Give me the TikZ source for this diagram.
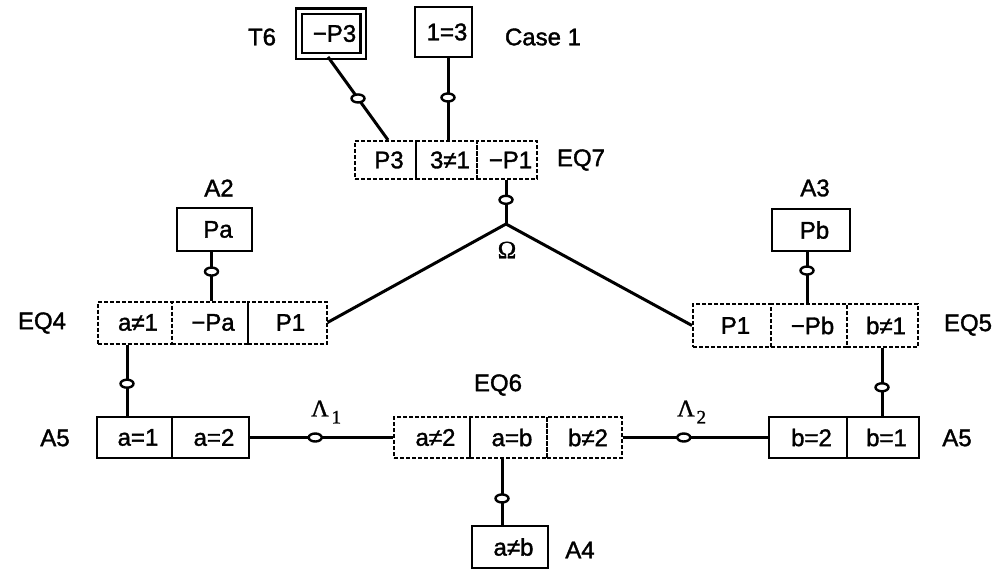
\documentclass[tikz,border=0pt]{standalone}
\usepackage{fontspec}
\setmainfont{Liberation Sans}
\newfontfamily\hv{Liberation Sans}[FakeBold=1.5]
\newfontfamily\srf{Liberation Serif}[FakeBold=1.2]
\usetikzlibrary{shapes.geometric}
\begin{document}
\begin{tikzpicture}[x=1pt,y=-1pt,
  txt/.style={font=\hv\fontsize{24}{28}\selectfont, inner sep=0pt},
  cell/.style={txt, draw, rectangle, execute at begin node={\hspace*{7pt}}},
  solidcell/.style={cell, line width=2.5pt},
  dashcell/.style={cell, line width=2pt, dash pattern=on 4pt off 2pt},
  dblcell/.style={cell, line width=2.3pt, double, double distance=3.5pt},
  conn/.style={line width=3pt},
  oc/.style={ellipse, draw, line width=2.4pt, fill=white, minimum width=13pt, minimum height=8pt, inner sep=0pt},
  lbl/.style={txt},
  greek/.style={inner sep=0pt, font=\srf\fontsize{24}{28}\selectfont}]
\useasboundingbox (0,0) rectangle (999,570);

% top boxes
\node[dblcell, minimum width=64.5pt, minimum height=44.5pt] (t6) at (331,33.5) {−P3};
\node[solidcell, minimum width=57pt, minimum height=50pt] (c13) at (443.5,32) {1=3};

% EQ7
\node[dashcell, minimum width=61pt, minimum height=38pt] (eq7a) at (385.5,160) {P3};
\node[dashcell, minimum width=61pt, minimum height=38pt] (eq7b) at (446.5,160) {3≠1};
\node[dashcell, minimum width=60pt, minimum height=38pt] (eq7c) at (507,160) {−P1};

% A2, EQ4
\node[solidcell, minimum width=75pt, minimum height=43pt] (pa) at (214.5,229.5) {Pa};
\node[dashcell, minimum width=74pt, minimum height=42pt] (eq4a) at (134.5,322.5) {a≠1};
\node[dashcell, minimum width=76pt, minimum height=42pt] (eq4b) at (209.5,322.5) {−Pa};
\node[dashcell, minimum width=79pt, minimum height=42pt] (eq4c) at (287,322.5) {P1};

% A3, EQ5
\node[solidcell, minimum width=78pt, minimum height=42pt] (pb) at (811,230) {Pb};
\node[dashcell, minimum width=78pt, minimum height=43pt] (eq5a) at (732,325.5) {P1};
\node[dashcell, minimum width=76pt, minimum height=43pt] (eq5b) at (809,325.5) {−Pb};
\node[dashcell, minimum width=71pt, minimum height=43pt] (eq5c) at (882.5,325.5) {b≠1};

% A5 left
\node[solidcell, minimum width=75pt, minimum height=41pt] (a5a) at (134.5,437.5) {a=1};
\node[solidcell, minimum width=77pt, minimum height=41pt] (a5b) at (210.5,437.5) {a=2};

% EQ6
\node[dashcell, minimum width=76pt, minimum height=41pt] (eq6a) at (432,437.5) {a≠2};
\node[dashcell, minimum width=77pt, minimum height=41pt] (eq6b) at (508.5,437.5) {a=b};
\node[dashcell, minimum width=75pt, minimum height=41pt] (eq6c) at (584.5,437.5) {b≠2};

% A5 right
\node[solidcell, minimum width=78pt, minimum height=41pt] (b5a) at (808,437.5) {b=2};
\node[solidcell, minimum width=72pt, minimum height=41pt] (b5b) at (883,437.5) {b=1};

% A4
\node[solidcell, minimum width=76pt, minimum height=42pt] (a4) at (510,547) {a≠b};

% Omega vertex
\coordinate (om) at (506,224);

% connectors
\draw[conn] ([xshift=-3pt]t6.south) -- node[oc, pos=0.5]{} ([xshift=2.5pt]eq7a.north);
\draw[conn] ([xshift=4.5pt]c13.south) -- node[oc, pos=0.48]{} ([xshift=1.5pt]eq7b.north);
\draw[conn] ([xshift=-1pt]eq7c.south) -- node[oc, pos=0.45]{} (om);
\draw[conn] (om) -- (eq4c.east);
\draw[conn] (om) -- (eq5a.west);
\draw[conn] ([xshift=-3pt]pa.south) -- node[oc, pos=0.4]{} ([xshift=2pt]eq4b.north);
\draw[conn] ([xshift=-4pt]pb.south) -- node[oc, pos=0.36]{} ([xshift=-2pt]eq5b.north);
\draw[conn] ([xshift=-7.5pt]eq4a.south) -- node[oc, pos=0.55]{} ([xshift=-7.5pt]a5a.north);
\draw[conn] ([xshift=-0.5pt]eq5c.south) -- node[oc, pos=0.58]{} ([xshift=-1pt]b5b.north);
\draw[conn] (a5b.east) -- node[oc, pos=0.455]{} (eq6a.west);
\draw[conn] (eq6c.east) -- node[oc, pos=0.42]{} (b5a.west);
\draw[conn] ([xshift=-6.5pt]eq6b.south) -- node[oc, pos=0.6]{} ([xshift=-8pt]a4.north);

% labels
\node[lbl] (lt6) at (262,37) {T6};
\node[lbl] (lcase) at (543,37) {Case 1};
\node[lbl] (leq7) at (581,160) {EQ7};
\node[lbl] (la2) at (219,188) {A2};
\node[lbl] (la3) at (815,188) {A3};
\node[greek, font=\srf\fontsize{25}{28}\selectfont] (lom) at (507,250) {Ω};
\node[lbl] (leq4) at (42,323) {EQ4};
\node[lbl] (leq5) at (968,325) {EQ5};
\node[lbl] (la5l) at (55,438) {A5};
\node[lbl] (la5r) at (957,438) {A5};
\node[lbl] (leq6) at (498,385) {EQ6};
\node[greek, anchor=west] (ll1) at (311,412) {Λ\kern3pt\raisebox{-7pt}{\fontsize{19}{20}\selectfont 1}};
\node[greek, anchor=west] (ll2) at (677,412) {Λ\kern2pt\raisebox{-7pt}{\fontsize{19}{20}\selectfont 2}};
\node[lbl] (la4) at (580,550) {A4};
\end{tikzpicture}
\end{document}
